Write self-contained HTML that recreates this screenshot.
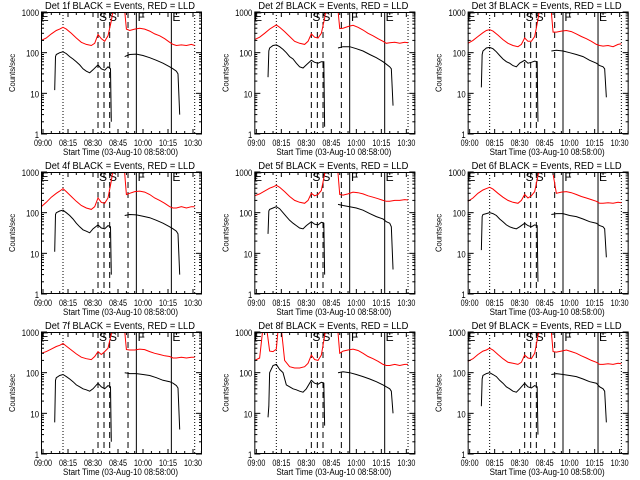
<!DOCTYPE html>
<html><head><meta charset="utf-8"><style>
body{margin:0;background:#fff;}
svg{display:block;font-family:"Liberation Sans",sans-serif;}
</style></head><body>
<svg id="chart" width="640" height="480" viewBox="0 0 640 480">
<rect width="640" height="480" fill="#fff"/>
</svg>
<script>
const detLabels = ["1f","2f","3f","4f","5f","6f","7f","8f","9f"];
const xTickMinutes = [0,15,30,45,60,75,90];
const xTickLabels = ["09:00","08:15","08:30","08:45","10:00","10:15","10:30"];
const yTickValues = [1,10,100,1000];
const yTickLabels = ["1","10","100","1000"];
const dottedEvents = [12,91];
const dashedEvents = [33,36.6,40,51];
const solidEvents = [56,77];
const eventLetters = ["E","S","S","F","E"];
const eventLetterMinutes = [1,36,42,59,80];
const redTimes = [-1,2,5,8,10,12,14,17,20,23,26,29,31,33,35,37,39,41,43,45,48,50,52,55,58,61,64,67,70,73,76,78,80,83,86,89,91];
const blackTimes = [7,7.5,8,10,12,14,16,18,20,22,24,26,28,30,33,35,37,39,40.5,41,45,49,52,56,60,64,68,72,76,78,80,81,82];
const redP1 = [200,230,290,350,380,420,380,300,230,180,160,150,170,280,220,190,260,600,2000,3000,3000,380,350,380,400,380,340,290,260,220,180,160,150,155,150,160,150];
const redP2 = [210,240,300,380,430,480,420,330,250,190,170,160,190,290,240,230,300,700,2500,3000,3000,390,400,440,470,420,360,300,260,220,190,170,175,180,170,180,175];
const redP3 = [170,200,250,310,350,370,340,270,210,170,150,140,160,230,190,190,250,650,2500,3000,3000,320,320,340,350,330,290,250,220,190,160,150,145,150,140,160,165];
const redP4 = [140,180,240,300,340,390,330,250,190,150,130,120,140,230,180,170,230,600,2200,3000,3000,280,300,330,340,320,280,230,200,170,140,130,130,140,130,140,140];
const redP5 = [260,290,340,400,430,470,420,330,250,200,180,170,200,300,260,280,350,900,3000,3000,3000,280,270,290,320,310,290,260,240,220,200,190,190,200,200,210,205];
const redP6 = [190,230,300,360,390,420,380,300,240,200,180,170,200,280,230,260,330,800,3000,3000,3000,900,300,320,330,310,280,250,230,210,190,170,170,175,170,180,175];
const redP7 = [300,330,380,440,470,520,450,360,290,240,220,210,250,330,280,330,400,900,3000,3000,3000,370,360,360,380,370,330,300,280,260,250,230,230,240,230,240,240];
const redP8 = [200,230,3000,340,330,380,3000,200,140,130,130,140,170,270,210,200,270,800,3000,3000,3000,300,340,360,380,350,300,250,220,190,160,150,150,160,150,160,160];
const redP9 = [190,220,280,340,360,400,360,280,220,180,170,160,180,270,230,220,300,800,2800,3000,3000,330,320,340,360,330,300,260,230,200,180,160,160,165,160,170,165];
const blackP1 = [12,80,90,100,105,95,80,70,60,50,40,35,32,38,50,40,37,45,40,2,null,80,90,92,85,75,65,55,45,40,35,30,3];
const blackP2 = [25,110,130,150,155,140,120,100,80,70,55,45,42,50,65,58,55,60,60,1.5,null,130,140,140,125,110,90,75,60,52,45,40,5];
const blackP3 = [14,90,110,130,135,125,105,85,70,60,55,48,45,55,65,55,58,62,60,2,null,110,115,110,100,90,80,65,55,48,45,40,8];
const blackP4 = [11,90,100,110,115,100,85,70,55,45,38,35,32,40,50,42,40,48,45,3,null,85,90,88,82,75,65,55,45,40,35,30,3];
const blackP5 = [30,110,120,130,140,125,100,80,65,55,48,42,40,48,60,52,50,58,55,3,null,160,150,140,130,115,95,80,70,60,55,45,4];
const blackP6 = [12,80,90,95,100,95,85,70,60,50,45,42,40,45,55,48,45,50,48,2,null,90,95,95,85,80,70,60,55,48,45,40,8];
const blackP7 = [6,65,75,85,90,80,70,60,50,45,40,38,35,40,55,45,40,48,45,2,null,100,95,95,90,85,75,65,60,55,48,42,4];
const blackP8 = [8,15,100,150,160,120,100,50,45,40,38,35,33,40,65,55,52,58,55,5,null,100,105,100,90,80,70,60,50,45,40,35,10];
const blackP9 = [15,70,85,95,100,90,80,65,55,45,40,35,33,40,55,45,42,48,45,3,null,90,95,90,85,80,70,60,55,45,40,35,6];
const redSeries = [redP1,redP2,redP3,redP4,redP5,redP6,redP7,redP8,redP9];
const blackSeries = [blackP1,blackP2,blackP3,blackP4,blackP5,blackP6,blackP7,blackP8,blackP9];

const NS = "http://www.w3.org/2000/svg";
const svg = document.getElementById("chart");
function mk(tag, attrs, parent){
  const e = document.createElementNS(NS, tag);
  for (const k in attrs) e.setAttribute(k, attrs[k]);
  parent.appendChild(e);
  return e;
}
const PL = 41, PR = 202, PT = 12, PB = 134;
function xScale(m){ return 43 + m * 1.667; }
function yScale(v){ return PB - (Math.log10(v)) * (PB - PT) / 3; }
const fit = {lengthAdjust: "spacingAndGlyphs"};

for (let p = 0; p < 9; p++){
  const col = p % 3, row = Math.floor(p / 3);
  const g = mk("g", {transform: "translate(" + (col*213.33).toFixed(2) + "," + (row*160) + ")"}, svg);
  
  
  const cid = "clip" + p;
  const cp = mk("clipPath", {id: cid}, g);
  mk("rect", {x: PL, y: PT, width: PR-PL, height: PB-PT}, cp);

  const title = mk("text", {x: 45, y: 9, "font-size": "10", textLength: "150", lengthAdjust: "spacingAndGlyphs", fill: "#000"}, g);
  title.textContent = "Det " + detLabels[p] + " BLACK = Events, RED = LLD";
  
  

  const ev = mk("g", {stroke: "#000", "stroke-width": "1"}, g);
  
  
  dottedEvents.forEach(m => mk("line", {x1: xScale(m), x2: xScale(m), y1: PT, y2: PB, "stroke-dasharray": "1,2"}, ev));
  dashedEvents.forEach(m => mk("line", {x1: xScale(m), x2: xScale(m), y1: PT, y2: PB, "stroke-dasharray": "6,4"}, ev));
  solidEvents.forEach(m => mk("line", {x1: xScale(m), x2: xScale(m), y1: PT, y2: PB}, ev));
  eventLetters.forEach((L, i) => {
    const t = mk("text", {x: xScale(eventLetterMinutes[i]), y: 21, "font-size": "12", fill: "#000", stroke: "none", "text-anchor": "middle"}, ev);
    t.textContent = L;
  });

  function path(times, vals){
    let d = "", pen = false;
    times.forEach((t, i) => {
      const v = vals[i];
      if (v === null || v === undefined){ pen = false; return; }
      d += (pen ? "L" : "M") + xScale(t).toFixed(1) + "," + yScale(v).toFixed(1);
      pen = true;
    });
    return d;
  }
  const red = mk("path", {d: path(redTimes, redSeries[p]), fill: "none", stroke: "#ff0000", "stroke-width": "1", "clip-path": "url(#" + cid + ")"}, g);
  
  
  const blk = mk("path", {d: path(blackTimes, blackSeries[p]), fill: "none", stroke: "#000", "stroke-width": "1", "clip-path": "url(#" + cid + ")"}, g);
  
  

  const ax = mk("g", {stroke: "#000", "stroke-width": "1", fill: "none"}, g);
  
  
  mk("rect", {x: PL+0.5, y: PT+0.5, width: PR-PL-1, height: PB-PT-1}, ax);
  for (let m = 0; m <= 95; m += 5){
    const x = xScale(m).toFixed(1);
    const len = (m % 15 === 0) ? 5 : 3;
    mk("line", {x1: x, x2: x, y1: PB, y2: PB-len}, ax);
    mk("line", {x1: x, x2: x, y1: PT, y2: PT+len}, ax);
  }
  for (let d = 0; d < 3; d++){
    for (let k = 2; k <= 9; k++){
      const y = yScale(k * Math.pow(10, d)).toFixed(1);
      mk("line", {x1: PL, x2: PL+3, y1: y, y2: y}, ax);
      mk("line", {x1: PR, x2: PR-3, y1: y, y2: y}, ax);
    }
  }
  yTickValues.forEach((v, i) => {
    const y = yScale(v);
    mk("line", {x1: PL, x2: PL+6, y1: y, y2: y}, ax);
    mk("line", {x1: PR, x2: PR-6, y1: y, y2: y}, ax);
    const t = mk("text", {x: PL-2, y: y+4, "font-size": "9", textLength: String(yTickLabels[i].length*4.3), lengthAdjust: "spacingAndGlyphs", "text-anchor": "end", fill: "#000", stroke: "none"}, g);
    t.textContent = yTickLabels[i];
    
    
  });
  xTickMinutes.forEach((m, i) => {
    const t = mk("text", {x: xScale(m) - 9, y: 146, "font-size": "9", textLength: "18", lengthAdjust: "spacingAndGlyphs", fill: "#000"}, g);
    t.textContent = xTickLabels[i];
    
    
  });
  const xt = mk("text", {x: 63, y: 155, "font-size": "9", textLength: "115", lengthAdjust: "spacingAndGlyphs", fill: "#000"}, g);
  xt.textContent = "Start Time (03-Aug-10 08:58:00)";
  
  
  const yt = mk("text", {x: 0, y: 0, "font-size": "8", textLength: "38", lengthAdjust: "spacingAndGlyphs", "text-anchor": "middle", fill: "#000", transform: "translate(15,73) rotate(-90)"}, g);
  yt.textContent = "Counts/sec";
  
  
}
</script>
</body></html>
